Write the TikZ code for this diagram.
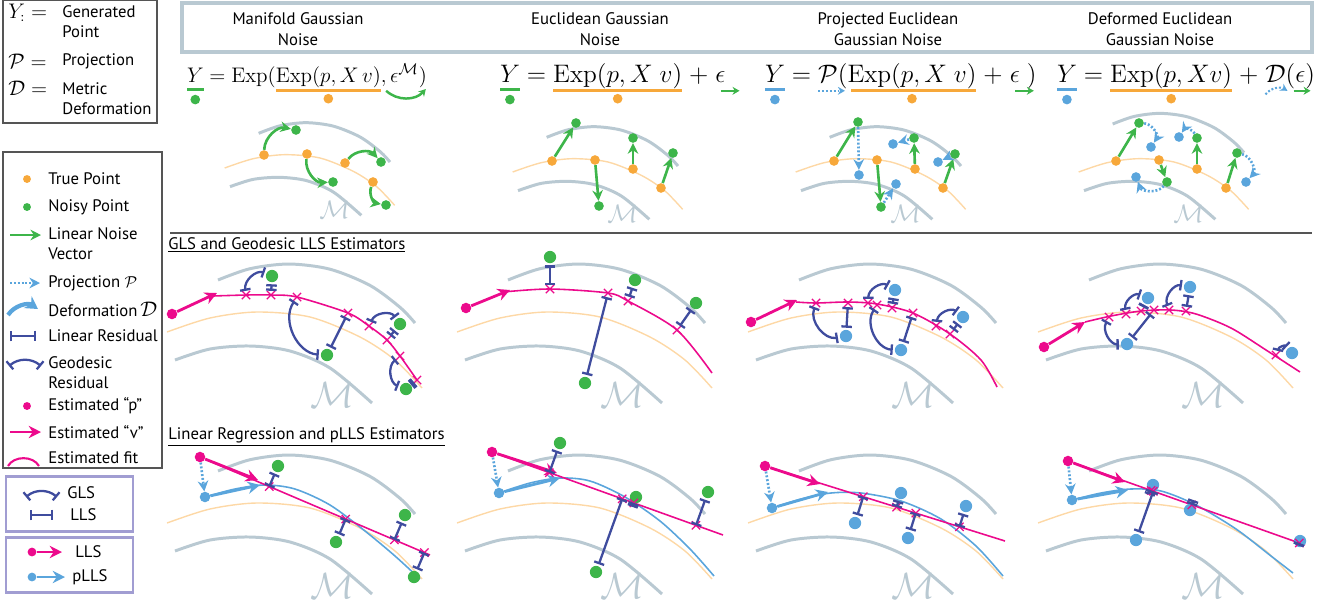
\documentclass[tikz,border=0pt]{standalone}
\usepackage{amsmath,amssymb}
\usepackage[no-math]{fontspec}
\setmainfont{PT Sans}
\usepackage{xcolor}
\usepackage{tikz}
\usetikzlibrary{arrows.meta,positioning,calc,shapes.misc}
\definecolor{mangray}{HTML}{B9C9D2}
\definecolor{truelight}{HTML}{FDD8A6}
\definecolor{trueorange}{HTML}{F7A83A}
\definecolor{noisegreen}{HTML}{3DB54A}
\definecolor{projblue}{HTML}{5AA5DC}
\definecolor{estmag}{HTML}{EC0A8C}
\definecolor{resnavy}{HTML}{3F4C9E}
\definecolor{boxlav}{HTML}{A19DD2}
\definecolor{framegray}{HTML}{555555}
\tikzset{
  mgray/.style={draw=mangray, line width=1.7pt},
  truefit/.style={draw=truelight, line width=0.8pt},
  estfit/.style={draw=estmag, line width=0.9pt},
  plfit/.style={draw=projblue, line width=0.9pt},
  mlabel/.style={text=mangray, font=\huge, inner sep=0pt},
  truept/.style={circle, fill=trueorange, inner sep=0pt, minimum size=#1},
  truept/.default=5.5pt,
  noisypt/.style={circle, fill=noisegreen, inner sep=0pt, minimum size=#1},
  noisypt/.default=5.5pt,
  projpt/.style={circle, fill=projblue, inner sep=0pt, minimum size=#1},
  projpt/.default=5.5pt,
  estpt/.style={circle, fill=estmag, inner sep=0pt, minimum size=#1},
  estpt/.default=6pt,
  noisevec/.style={-{Stealth[length=6pt,width=6pt]}, draw=noisegreen, line width=1.5pt},
  projvec/.style={-{Stealth[length=6pt,width=6pt]}, draw=projblue, line width=1.5pt,
    dash pattern=on 1.1pt off 1.1pt},
  defvec/.style={-{Stealth[length=7pt,width=8pt]}, draw=projblue, line width=2.4pt},
  estvec/.style={-{Stealth[length=7pt,width=7pt]}, draw=estmag, line width=1.6pt},
  plvec/.style={-{Stealth[length=7pt,width=7pt]}, draw=projblue, line width=1.6pt},
  smallvec/.style={line width=1.2pt, -{Stealth[length=4pt,width=4.5pt]}},
  resid/.style={{Bar[width=6pt]}-{Bar[width=6pt]}, draw=resnavy, line width=1.3pt},
  xmark/.style={cross out, draw=estmag, line width=0.7pt, inner sep=0pt, minimum size=4pt},
  legtext/.style={anchor=west, inner sep=0pt, align=left},
  legbox/.style={draw=boxlav, line width=1.7pt},
  eqpart/.style={anchor=base west, inner sep=0pt, outer sep=0pt, font=\fontsize{13.5}{16}\selectfont},
  eqsmall/.style={eqpart, font=\fontsize{12.2}{15}\selectfont},
  uline/.style={line width=1.7pt},
}
% manifold sheets, true curve and label of one panel (local pixel units)
\newcommand{\manbg}[1][0]{%
  \draw[mgray] plot[smooth] coordinates {(58,{50+#1}) (90,{38.7+#1}) (129,{34+#1}) (170,{39.2+#1}) (210,{55.4+#1}) (240,{77.3+#1}) (255,{93+#1})};
  \draw[mgray] plot[smooth] coordinates {(15,130) (50,119) (90,116) (130,121) (170,138) (212,173)};
  \draw[truefit] plot[smooth] coordinates {(7,102) (50,88) (97,82) (150,87) (200,107) (235,130) (262,158)};
  \node[mlabel] at (172,165) {$\mathcal{M}$};
}

\begin{document}
\begin{tikzpicture}[x=0.02cm, y=-0.02cm, font=\fontsize{9.5}{11.5}\selectfont]
\useasboundingbox (0,0) rectangle (1320,600);

% ---- legend ----
\draw[framegray, line width=0.6pt] (3,0) rectangle (157,123);
\node[legtext, font=\large] (ky) at (8,13) {$Y_{:}=$};
\node[legtext] (kyt) at (62,22) {Generated\\Point};
\node[legtext, font=\large] (kp) at (8,61) {$\mathcal{P}=$};
\node[legtext] (kpt) at (62,61) {Projection};
\node[legtext, font=\large] (kd) at (8,88) {$\mathcal{D}=$};
\node[legtext] (kdt) at (62,99) {Metric\\Deformation};

\draw[framegray, line width=0.6pt] (3,152) rectangle (162,468);
\node[truept=4.5pt] (lt) at (27,179) {};
\node[legtext] (ltt) at (48,179) {True Point};
\node[noisypt=4.5pt] (ln) at (27,207) {};
\node[legtext] (lnt) at (48,207) {Noisy Point};
\coordinate (lva) at (10,235); \coordinate (lvb) at (41,235);
\draw[noisevec] (lva) -- (lvb);
\node[legtext] (lvt) at (48,244) {Linear Noise\\Vector};
\coordinate (lpa) at (10,283); \coordinate (lpb) at (40,283);
\draw[projvec] (lpa) -- (lpb);
\node[legtext] (lpt) at (48,283) {Projection $\mathcal{P}$};
\coordinate (lda) at (8,315); \coordinate (ldb) at (38,309);
\draw[defvec] (lda) to[bend left=45] (ldb);
\node[legtext] (ldt) at (48,309) {Deformation\,{\large$\mathcal{D}$}};
\coordinate (lla) at (10,336); \coordinate (llb) at (36,336);
\draw[resid] (lla) -- (llb);
\node[legtext] (llt) at (48,336) {Linear Residual};
\coordinate (lga) at (9,366); \coordinate (lgb) at (41,366);
\draw[resid] (lga) to[bend left=40] (lgb);
\node[legtext] (lgt) at (48,373) {Geodesic\\Residual};
\node[estpt=4.5pt] (lep) at (27,406) {};
\node[legtext] (lept) at (48,406) {Estimated ``p''};
\coordinate (leva) at (10,432); \coordinate (levb) at (41,432);
\draw[estvec] (leva) -- (levb);
\node[legtext] (levt) at (48,432) {Estimated ``v''};
\coordinate (lefa) at (8,466); \coordinate (lefb) at (39,466);
\draw[estfit, line width=1.2pt] (lefa) to[bend left=60] (lefb);
\node[legtext] (left) at (48,458) {Estimated fit};

\draw[legbox] (6,476) rectangle (133,531);
\coordinate (kga) at (26,497); \coordinate (kgb) at (57,497);
\draw[resid] (kga) to[bend left=40] (kgb);
\node[legtext] (kgt) at (67,493) {GLS};
\coordinate (kla) at (30,515); \coordinate (klb) at (53,515);
\draw[resid] (kla) -- (klb);
\node[legtext] (klt) at (70,515) {LLS};
\draw[legbox] (6,537) rectangle (133,592);
\node[estpt=5pt] (kea) at (32,552) {};
\coordinate (keb) at (62,552);
\draw[estvec] (kea) -- (keb);
\node[legtext] (ket) at (75,552) {LLS};
\node[projpt=5pt] (kpa) at (32,577) {};
\coordinate (kpb) at (65,577);
\draw[plvec] (kpa) -- (kpb);
\node[legtext] (kpl) at (72,577) {pLLS};

% ---- column headers ----
\draw[mangray, line width=1.8pt] (182,3) rectangle (1312,52);
\node[align=center, font=\fontsize{9.5}{12}\selectfont] (h1) at (298,29) {Manifold Gaussian\\Noise};
\node[align=center, font=\fontsize{9.5}{12}\selectfont] (h2) at (600,29) {Euclidean Gaussian\\Noise};
\node[align=center, font=\fontsize{9.5}{12}\selectfont] (h3) at (888,29) {Projected Euclidean\\Gaussian Noise};
\node[align=center, font=\fontsize{9.5}{12}\selectfont] (h4) at (1160,29) {Deformed Euclidean\\Gaussian Noise};

% ---- equations ----
\node[eqsmall] (e1y) at (187,82) {$Y$};
\node[eqsmall] (e1a) at (e1y.base east) {$\;=\mathrm{Exp}($};
\node[eqsmall] (e1x) at (e1a.base east) {$\mathrm{Exp}(p,X\,v)$};
\node[eqsmall] (e1n) at (e1x.base east) {$,\epsilon^{\mathcal{M}}$};
\node[eqsmall] (e1c) at (e1n.base east) {$)$};
\draw[uline, noisegreen] ([yshift=-4.5pt]e1y.base west) -- ([yshift=-4.5pt]e1y.base east);
\node[noisypt] (e1yd) at ([yshift=-10pt]e1y.base) {};
\draw[uline, trueorange] ([yshift=-5pt]e1x.base west) -- ([yshift=-5pt]e1x.base east);
\node[truept] (e1xd) at ([yshift=-9.5pt]e1x.base) {};
\draw[smallvec, noisegreen, line width=1.4pt] ([xshift=3pt,yshift=-5pt]e1n.base west) to[bend right=45] ([xshift=4pt,yshift=-4pt]e1n.base east);

\node[eqpart] (e2y) at (500,82) {$Y$};
\node[eqpart] (e2a) at (e2y.base east) {$\;=\;$};
\node[eqpart] (e2x) at (e2a.base east) {$\mathrm{Exp}(p,X\;v)$};
\node[eqpart] (e2b) at (e2x.base east) {$\;+\;$};
\node[eqpart] (e2n) at (e2b.base east) {$\epsilon$};
\draw[uline, noisegreen] ([yshift=-4.5pt]e2y.base west) -- ([yshift=-4.5pt]e2y.base east);
\node[noisypt] (e2yd) at ([yshift=-10pt]e2y.base) {};
\draw[uline, trueorange] ([yshift=-5pt]e2x.base west) -- ([yshift=-5pt]e2x.base east);
\node[truept] (e2xd) at ([yshift=-9.5pt]e2x.base) {};
\draw[smallvec, noisegreen] ([xshift=3pt,yshift=-5pt]e2n.base west) -- ([xshift=8pt,yshift=-5pt]e2n.base east);

\node[eqpart] (e3y) at (765,82) {$Y$};
\node[eqpart] (e3a) at (e3y.base east) {$\;=\;$};
\node[eqpart] (e3p) at (e3a.base east) {$\mathcal{P}$};
\node[eqpart] (e3b) at (e3p.base east) {$($};
\node[eqpart] (e3x) at (e3b.base east) {$\mathrm{Exp}(p,X\;v)$};
\node[eqpart] (e3c) at (e3x.base east) {$\;+\;$};
\node[eqpart] (e3n) at (e3c.base east) {$\epsilon$};
\node[eqpart] (e3d) at (e3n.base east) {$\;)$};
\draw[uline, projblue] ([yshift=-4.5pt]e3y.base west) -- ([yshift=-4.5pt]e3y.base east);
\node[projpt] (e3yd) at ([yshift=-10pt]e3y.base) {};
\draw[smallvec, projblue, dash pattern=on 1.1pt off 1.1pt] ([yshift=-5pt]e3p.base west) -- ([xshift=4pt,yshift=-5pt]e3p.base east);
\draw[uline, trueorange] ([xshift=2pt,yshift=-5pt]e3x.base west) -- ([yshift=-5pt]e3x.base east);
\node[truept] (e3xd) at ([yshift=-9.5pt]e3x.base) {};
\draw[smallvec, noisegreen] ([xshift=3pt,yshift=-5pt]e3n.base west) -- ([xshift=8pt,yshift=-5pt]e3n.base east);

\node[eqpart] (e4y) at (1057,82) {$Y$};
\node[eqpart] (e4a) at (e4y.base east) {$\;=\;$};
\node[eqpart] (e4x) at (e4a.base east) {$\mathrm{Exp}(p,Xv)$};
\node[eqpart] (e4b) at (e4x.base east) {$\;+\;$};
\node[eqpart] (e4d) at (e4b.base east) {$\mathcal{D}$};
\node[eqpart] (e4c) at (e4d.base east) {$($};
\node[eqpart] (e4n) at (e4c.base east) {$\epsilon$};
\node[eqpart] (e4e) at (e4n.base east) {$)$};
\draw[uline, projblue] ([yshift=-4.5pt]e4y.base west) -- ([yshift=-4.5pt]e4y.base east);
\node[projpt] (e4yd) at ([yshift=-10pt]e4y.base) {};
\draw[uline, trueorange] ([yshift=-5pt]e4x.base west) -- ([yshift=-5pt]e4x.base east);
\node[truept] (e4xd) at ([yshift=-9.5pt]e4x.base) {};
\draw[smallvec, projblue, dash pattern=on 1.1pt off 1.1pt] ([yshift=-7pt]e4d.base west) to[bend left=40] ([xshift=1pt,yshift=-5pt]e4d.base east);
\draw[smallvec, noisegreen] ([xshift=-1pt,yshift=-5pt]e4n.base west) -- ([xshift=3pt,yshift=-5pt]e4n.base east);

% ---- top row: noise models ----
\begin{scope}[shift={(220,100)}, scale=2/3, mlabel/.append style={font=\Large}]\manbg\end{scope}
\begin{scope}[shift={(508,104)}, scale=2/3, mlabel/.append style={font=\Large}]\manbg\end{scope}
\begin{scope}[shift={(791,104)}, scale=2/3, mlabel/.append style={font=\Large}]\manbg\end{scope}
\begin{scope}[shift={(1074,104)}, scale=2/3, mlabel/.append style={font=\Large}]\manbg[-20]\end{scope}

\foreach \p/\i/\x/\y in {1/1/264/155, 1/2/307/154, 1/3/345/163, 1/4/373/182,
    2/1/552/161, 2/2/595/160, 2/3/633/169, 2/4/661/188,
    3/1/834/161, 3/2/877/160, 3/3/915/169, 3/4/943/188,
    4/1/1116/161, 4/2/1159/160, 4/3/1197/169, 4/4/1226/188}
  \node[truept] (t\p\i) at (\x,\y) {};
\foreach \p/\i/\x/\y in {1/1/296/130, 1/2/333/182, 1/3/381/162, 1/4/386/205,
    2/1/576/123, 2/2/599/206, 2/3/633/138, 2/4/673/153,
    3/1/858/122, 3/2/881/207, 3/3/914/138, 3/4/955/154,
    4/1/1139/123, 4/2/1167/182, 4/3/1197/138, 4/4/1237/153}
  \node[noisypt] (n\p\i) at (\x,\y) {};
\foreach \p/\i/\x/\y in {3/1/859/175, 3/2/896/184, 3/3/893/144, 3/4/938/162,
    4/1/1151/147, 4/2/1136/177, 4/3/1179/137, 4/4/1246/182}
  \node[projpt] (b\p\i) at (\x,\y) {};

\foreach \i/\b in {1/left,2/right,3/left,4/right}
  \draw[noisevec] (t1\i) to[bend \b=50] (n1\i);
\foreach \i in {1,...,4} {
  \draw[noisevec] (t2\i) -- (n2\i);
  \draw[noisevec] (t3\i) -- (n3\i);
  \draw[noisevec] (t4\i) -- (n4\i);
  \draw[projvec] (n3\i) -- (b3\i);
}
\foreach \i/\b in {1/left,2/left,3/right,4/left}
  \draw[projvec] (n4\i) to[bend \b=60] (b4\i);

% ---- middle row: GLS and geodesic LLS ----
\draw[framegray, line width=0.6pt] (170,233) -- (1312,233);
\node[anchor=west, inner sep=0pt] (s1) at (168,245) {\underline{GLS and Geodesic LLS Estimators}};

\begin{scope}[shift={(160,230)}]
  \manbg
  \draw[estfit] plot[smooth] coordinates {(53,66) (86,65) (111,65) (137,67) (188,83) (209,96) (227,110) (240,126) (257,150)};
  \node[estpt] (m1p) at (12,84) {};
  \coordinate (m1v) at (57,63);
  \draw[estvec] (m1p) -- (m1v);
  \foreach \i/\x/\y in {1/86/65, 2/111/65, 3/137/67, 4/188/83, 5/209/96, 6/227/110, 7/240/126, 8/257/150}
    \node[xmark] (m1c\i) at (\x,\y) {};
  \foreach \i/\x/\y in {1/112/46, 2/167/125, 3/240/94, 4/246/159}
    \node[noisypt=7pt] (m1y\i) at (\x,\y) {};
  \foreach \a/\b/\i/\s in {1/2/1/left, 3/4/2/right, 5/6/3/left, 7/8/4/right} {
    \draw[resid, shorten >=1pt] (m1c\a) to[bend \s=60] (m1y\i);
    \draw[resid, shorten <=1pt] (m1y\i) -- (m1c\b);
  }
\end{scope}

\begin{scope}[shift={(450,230)}]
  \manbg
  \draw[estfit] plot[smooth] coordinates {(53,62) (100,59) (158,63) (178,71) (227,100) (262,143)};
  \node[estpt] (m2p) at (16,78) {};
  \coordinate (m2v) at (60,60);
  \draw[estvec] (m2p) -- (m2v);
  \foreach \i/\x/\y in {1/100/59, 2/158/63, 3/178/71, 4/227/100}
    \node[xmark] (m2c\i) at (\x,\y) {};
  \foreach \i/\x/\y in {1/100/27, 2/135/153, 3/185/50, 4/246/73}
    \node[noisypt=7pt] (m2y\i) at (\x,\y) {};
  \foreach \i in {1,...,4}
    \draw[resid, shorten <=1pt] (m2y\i) -- (m2c\i);
\end{scope}

\begin{scope}[shift={(741,230)}]
  \manbg
  \draw[estfit] plot[smooth] coordinates {(55,72) (75,73) (107,72) (136,74) (172,83) (209,104) (240,130) (256,157)};
  \node[estpt] (m3p) at (10,92) {};
  \coordinate (m3v) at (56,70);
  \draw[estvec] (m3p) -- (m3v);
  \foreach \i/\x/\y in {1/75/73, 2/107/73, 3/127/73, 4/136/75, 5/151/78, 6/172/83, 7/195/96, 8/209/104}
    \node[xmark] (m3c\i) at (\x,\y) {};
  \foreach \i/\x/\y in {1/105/106, 2/154/60, 3/160/120, 4/222/87}
    \node[projpt=7pt] (m3y\i) at (\x,\y) {};
  \foreach \a/\b/\i/\s in {1/2/1/right, 3/5/2/left, 4/6/3/right, 7/8/4/left} {
    \draw[resid, shorten >=1pt] (m3c\a) to[bend \s=60] (m3y\i);
    \draw[resid, shorten <=1pt] (m3y\i) -- (m3c\b);
  }
\end{scope}

\begin{scope}[shift={(1031,230)}]
  \manbg
  \draw[estfit] plot[smooth] coordinates {(54,92) (80,86) (110,81) (140,80) (165,84) (200,98) (235,120) (269,142)};
  \node[estpt] (m4p) at (13,117) {};
  \coordinate (m4v) at (54,92);
  \draw[estvec] (m4p) -- (m4v);
  \foreach \i/\x/\y in {1/78/87, 2/95/84, 3/110/81, 4/123/80, 5/138/80, 6/155/81, 7/245/125}
    \node[xmark] (m4c\i) at (\x,\y) {};
  \foreach \i/\x/\y in {1/117/68, 2/159/57, 3/96/114, 4/261/123}
    \node[projpt=7pt] (m4y\i) at (\x,\y) {};
  \draw[resid, shorten >=1pt] (m4c2) to[bend left=60] (m4y1);
  \draw[resid, shorten <=1pt] (m4y1) -- (m4c3);
  \draw[resid, shorten >=1pt] (m4c5) to[bend left=60] (m4y2);
  \draw[resid, shorten <=1pt] (m4y2) -- (m4c6);
  \draw[resid, shorten >=1pt] (m4c1) to[bend right=60] (m4y3);
  \draw[resid, shorten <=1pt] (m4y3) -- (m4c4);
  \draw[resid, shorten >=1pt] (m4c7) to[bend left=60] (m4y4);
\end{scope}

% ---- bottom row: linear regression and pLLS ----
\node[anchor=west, inner sep=0pt] (s2) at (168,437) {\underline{Linear Regression and pLLS Estimators}};

\begin{scope}[shift={(160,421)}]
  \manbg
  \node[estpt] (l1a) at (40,36) {};
  \coordinate (l1b) at (270,134);
  \node[projpt=6pt] (l1c) at (45,76) {};
  \draw[plfit] plot[smooth] coordinates {(45,76) (75,68) (105,64) (135,68) (170,84) (205,110) (235,135) (260,158)};
  \draw[estfit] (l1a) -- (l1b);
  \coordinate (l1v) at (98,59); \coordinate (l1w) at (100,64);
  \draw[plvec] (l1c) -- (l1w);
  \draw[estvec] (l1a) -- (l1v);
  \draw[projvec] (l1a) -- (l1c);
  \foreach \j/\x/\y in {1/118/45, 2/176/121, 3/245/94, 4/254/156} {
    \node[noisypt=7pt] (l1y\j) at (\x,\y) {};
    \coordinate (l1f\j) at ($(l1a)!(l1y\j)!(l1b)$);
    \node[xmark] (l1x\j) at (l1f\j) {};
    \draw[resid, shorten <=1pt] (l1y\j) -- (l1f\j);
  }
\end{scope}

\begin{scope}[shift={(450,421)}]
  \manbg
  \node[estpt] (l2a) at (42,31) {};
  \coordinate (l2b) at (273,114);
  \node[projpt=6pt] (l2c) at (49,72) {};
  \draw[plfit] plot[smooth] coordinates {(49,72) (80,62) (110,57) (140,60) (175,76) (210,100) (240,128) (264,155)};
  \draw[estfit] (l2a) -- (l2b);
  \coordinate (l2v) at (107,52); \coordinate (l2w) at (110,57);
  \draw[plvec] (l2c) -- (l2w);
  \draw[estvec] (l2a) -- (l2v);
  \draw[projvec] (l2a) -- (l2c);
  \foreach \j/\x/\y in {1/110/22, 2/146/151, 3/186/76, 4/258/71} {
    \node[noisypt=7pt] (l2y\j) at (\x,\y) {};
    \coordinate (l2f\j) at ($(l2a)!(l2y\j)!(l2b)$);
    \node[xmark] (l2x\j) at (l2f\j) {};
    \draw[resid, shorten <=1pt] (l2y\j) -- (l2f\j);
  }
\end{scope}

\begin{scope}[shift={(741,421)}]
  \manbg
  \node[estpt] (l3a) at (24,45) {};
  \coordinate (l3b) at (264,120);
  \node[projpt=6pt] (l3c) at (31,87) {};
  \draw[plfit] plot[smooth] coordinates {(31,87) (60,78) (90,72) (120,72) (160,80) (200,98) (235,125) (262,155)};
  \draw[estfit] (l3a) -- (l3b);
  \coordinate (l3v) at (79,63); \coordinate (l3w) at (87,71);
  \draw[plvec] (l3c) -- (l3w);
  \draw[estvec] (l3a) -- (l3v);
  \draw[projvec] (l3a) -- (l3c);
  \foreach \j/\x/\y in {1/114/102, 2/160/72, 3/167/117, 4/225/85} {
    \node[projpt=7pt] (l3y\j) at (\x,\y) {};
    \coordinate (l3f\j) at ($(l3a)!(l3y\j)!(l3b)$);
    \node[xmark] (l3x\j) at (l3f\j) {};
    \draw[resid, shorten <=1pt] (l3y\j) -- (l3f\j);
  }
\end{scope}

\begin{scope}[shift={(1031,421)}]
  \manbg
  \node[estpt] (l4a) at (37,40) {};
  \coordinate (l4b) at (274,124);
  \node[projpt=6pt] (l4c) at (41,79) {};
  \draw[plfit] plot[smooth] coordinates {(41,79) (70,72) (100,68) (130,70) (165,84) (205,108) (240,135) (262,152)};
  \draw[estfit] (l4a) -- (l4b);
  \coordinate (l4v) at (94,61); \coordinate (l4w) at (97,69);
  \draw[plvec] (l4c) -- (l4w);
  \draw[estvec] (l4a) -- (l4v);
  \draw[projvec] (l4a) -- (l4c);
  \foreach \j/\x/\y in {1/122/64, 2/105/119, 3/159/89, 4/269/120} {
    \node[projpt=7pt] (l4y\j) at (\x,\y) {};
    \coordinate (l4f\j) at ($(l4a)!(l4y\j)!(l4b)$);
    \node[xmark] (l4x\j) at (l4f\j) {};
    \draw[resid, shorten <=1pt] (l4y\j) -- (l4f\j);
  }
\end{scope}
\end{tikzpicture}
\end{document}
